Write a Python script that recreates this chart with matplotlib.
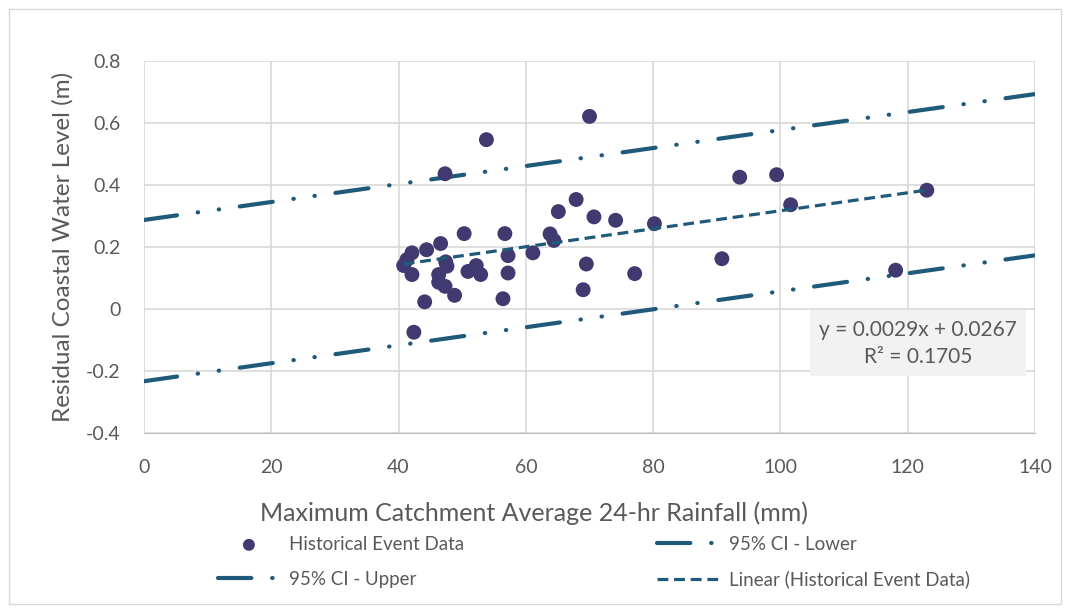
import numpy as np
import matplotlib
matplotlib.use("Agg")
import matplotlib.pyplot as plt
from matplotlib.patches import Rectangle

# historical events: rainfall (mm) vs residual water level (m)
rain = [40.8, 41.3, 42.1, 42.1, 42.4, 44.1, 44.4, 46.3, 46.3, 46.6, 47.3, 47.3,
        47.4, 47.6, 48.8, 50.3, 50.9, 52.2, 52.9, 53.8, 56.4, 56.7, 57.2, 57.2,
        61.1, 63.8, 64.4, 65.1, 67.9, 69.0, 69.5, 70.0, 70.7, 74.1, 77.1, 80.2,
        90.8, 93.6, 99.4, 101.6, 118.1, 123.0]
level = [0.140, 0.159, 0.181, 0.111, -0.075, 0.023, 0.191, 0.111, 0.086, 0.211,
         0.436, 0.073, 0.152, 0.138, 0.044, 0.243, 0.121, 0.140, 0.111, 0.546,
         0.033, 0.243, 0.172, 0.116, 0.181, 0.242, 0.221, 0.314, 0.353, 0.062,
         0.145, 0.621, 0.297, 0.286, 0.114, 0.275, 0.162, 0.425, 0.433, 0.336,
         0.125, 0.383]

slope = 0.0029
intercept = 0.0267
r2 = 0.1705

ci_x = [0, 140]
ci_upper = [0.287, 0.693]
ci_lower = [-0.233, 0.173]

x_ticks = [0, 20, 40, 60, 80, 100, 120, 140]
y_ticks = [-0.4, -0.2, 0, 0.2, 0.4, 0.6, 0.8]
y_tick_labels = ['-0.4', '-0.2', '0', '0.2', '0.4', '0.6', '0.8']

plt.rcParams['font.family'] = ['Lato', 'DejaVu Sans']
txt = '#595959'
line_c = '#1F5A7A'
dot_c = '#403A70'

fig = plt.figure(figsize=(10.7, 6.09), dpi=100)
fig.patches.append(Rectangle((0.008, 0.008), 0.984, 0.977, transform=fig.transFigure,
                             fill=False, edgecolor='#D9D9D9', linewidth=1))
ax = fig.add_axes([0.1346, 0.289, 0.8327, 0.611])

ci_dash = (8, 5, 0.1, 5, 0.1, 5)
up, = ax.plot(ci_x, ci_upper, color=line_c, lw=3.0, dashes=ci_dash,
              dash_capstyle='round', label='95% CI - Upper', zorder=3)
lo, = ax.plot(ci_x, ci_lower, color=line_c, lw=3.0, dashes=ci_dash,
              dash_capstyle='round', label='95% CI - Lower', zorder=3)

sc = ax.scatter(rain, level, s=115, color=dot_c, edgecolors='none',
                label='Historical Event Data', zorder=4)

tx = np.array([min(rain), max(rain)])
tr, = ax.plot(tx, slope * tx + intercept, color=line_c, lw=2.3, dashes=(3.4, 1.8),
              label='Linear (Historical Event Data)', zorder=5)

ax.set_xlim(0, 140)
ax.set_ylim(-0.4, 0.8)
ax.set_xticks(x_ticks)
ax.set_yticks(y_ticks)
ax.set_yticklabels(y_tick_labels)
ax.grid(True, color='#D9D9D9', lw=1.2)
ax.set_axisbelow(True)
for s in ['top', 'right', 'left']:
    ax.spines[s].set_visible(False)
ax.spines['bottom'].set_color('#BFBFBF')
ax.tick_params(length=0, labelsize=14, colors=txt)
ax.tick_params(axis='x', pad=19)
ax.tick_params(axis='y', pad=17)

ax.set_xlabel('Maximum Catchment Average 24-hr Rainfall (mm)', fontsize=18,
              color=txt, labelpad=16)
ax.xaxis.set_label_coords(0.438, -0.185)
ax.set_ylabel('Residual Coastal Water Level (m)', fontsize=17.5, color=txt, labelpad=9)

ax.text(121.6, -0.035, 'y = 0.0029x + 0.0267\nR² = {:.4f}'.format(r2),
        ha='center', va='top', fontsize=15, color=txt, linespacing=1.45, zorder=6,
        bbox=dict(boxstyle='square,pad=0.45', facecolor='#F2F2F2', edgecolor='none'))

fig.legend(handles=[sc, up, lo, tr], loc='center', bbox_to_anchor=(0.555, 0.077),
           ncol=2, frameon=False, fontsize=13.5, labelcolor=txt, handlelength=3.3,
           columnspacing=10.3, handletextpad=0.5, labelspacing=0.95, markerscale=0.8)

fig.savefig('out.png', dpi=100)
